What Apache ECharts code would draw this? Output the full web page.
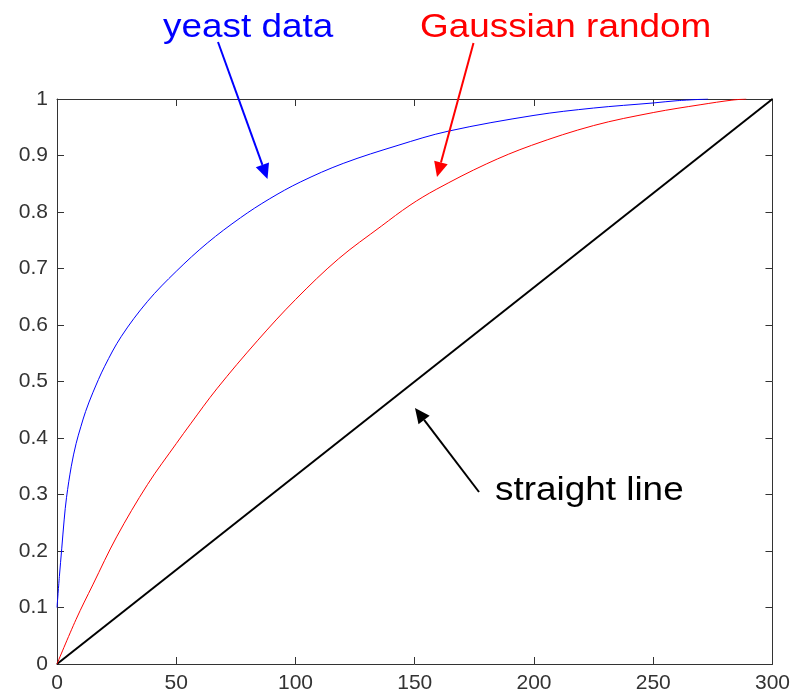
<!DOCTYPE html>
<html>
<head>
<meta charset="utf-8">
<script src="https://cdn.jsdelivr.net/npm/echarts@6/dist/echarts.min.js"></script>
<style>html,body{margin:0;padding:0;background:#fff;}#c{width:793px;height:694px;}</style>
</head>
<body>
<div id="c"></div>
<script>
// ---- data ----
const xTicks = [0, 50, 100, 150, 200, 250, 300];
const yTicks = [0, 0.1, 0.2, 0.3, 0.4, 0.5, 0.6, 0.7, 0.8, 0.9, 1];

const yeastX = [0, 1, 2, 3, 4, 6, 8, 10, 12, 15, 20, 27, 38, 50, 63, 77, 89, 102, 120, 143, 164, 200, 225, 250, 260, 273];
const yeastY = [0.10, 0.155, 0.205, 0.255, 0.295, 0.35, 0.39, 0.42, 0.447, 0.48, 0.527, 0.58, 0.642, 0.695, 0.745, 0.79, 0.823, 0.853, 0.886, 0.918, 0.943, 0.971, 0.984, 0.993, 0.997, 1.0];

const gaussX = [0, 8, 15, 25, 38, 50, 56, 67, 84, 100, 118, 136, 148, 159, 180, 199, 225, 250, 270, 283, 289];
const gaussY = [0, 0.079, 0.14, 0.225, 0.318, 0.39, 0.425, 0.487, 0.572, 0.645, 0.717, 0.775, 0.812, 0.84, 0.885, 0.918, 0.953, 0.976, 0.990, 0.998, 1.0];

const lineX = [0, 300];
const lineY = [0, 1];

const labels = ['yeast data', 'Gaussian random', 'straight line'];

// ---- chart ----
const pairs = (xs, ys) => xs.map((x, i) => [x, ys[i]]);
const FONT = '"Liberation Sans", Arial, sans-serif';
const axisColor = '#333';

function arrow(tail, tip, color, w) {
  const dx = tip[0] - tail[0], dy = tip[1] - tail[1];
  const L = Math.hypot(dx, dy);
  const ux = dx / L, uy = dy / L;
  const hl = 15, hw = 7;
  const bx = tip[0] - ux * hl, by = tip[1] - uy * hl;
  const nx = -uy, ny = ux;
  return [
    { type: 'line', shape: { x1: tail[0], y1: tail[1], x2: bx, y2: by }, style: { stroke: color, lineWidth: w }, z: 100 },
    { type: 'polygon', shape: { points: [[tip[0], tip[1]], [bx + nx * hw, by + ny * hw], [bx - nx * hw, by - ny * hw]] }, style: { fill: color }, z: 100 }
  ];
}
function label(text, x, y, color) {
  return { type: 'text', x: x, y: y, scaleX: 1.085, z: 100,
    style: { x: 0, y: 0, text: text, fill: color, font: '34px ' + FONT, textAlign: 'left', textVerticalAlign: 'middle' } };
}

const chart = echarts.init(document.getElementById('c'), null, { renderer: 'canvas' });
const axisCommon = {
  type: 'value', min: 0,
  axisLine: { show: true, onZero: false, lineStyle: { color: axisColor, width: 1 } },
  axisTick: { show: true, inside: true, length: 7, lineStyle: { color: axisColor, width: 1 } },
  splitLine: { show: false }
};
chart.setOption({
  animation: false,
  backgroundColor: '#fff',
  grid: { left: 57, right: 18, top: 99, bottom: 28, containLabel: false },
  xAxis: [
    Object.assign({}, axisCommon, { position: 'bottom', max: 300, interval: 50,
      axisLabel: { show: true, margin: 9, color: axisColor, fontSize: 21, fontFamily: FONT } }),
    Object.assign({}, axisCommon, { position: 'top', max: 300, interval: 50, axisLabel: { show: false } })
  ],
  yAxis: [
    Object.assign({}, axisCommon, { position: 'left', max: 1, interval: 0.1,
      axisLabel: { show: true, margin: 9, color: axisColor, fontSize: 21, fontFamily: FONT,
        formatter: v => String(Math.round(v * 10) / 10) } }),
    Object.assign({}, axisCommon, { position: 'right', max: 1, interval: 0.1, axisLabel: { show: false } })
  ],
  series: [
    { type: 'line', data: pairs(lineX, lineY), showSymbol: false, symbol: 'none', lineStyle: { color: '#000', width: 2 }, z: 3 },
    { type: 'line', data: pairs(gaussX, gaussY), showSymbol: false, symbol: 'none', smooth: 0.35, lineStyle: { color: '#ff0000', width: 1 }, z: 4 },
    { type: 'line', data: pairs(yeastX, yeastY), showSymbol: false, symbol: 'none', smooth: 0.35, lineStyle: { color: '#0000ff', width: 1 }, z: 5 }
  ],
  graphic: [
    label(labels[0], 163, 27.5, '#0000ff'),
    label(labels[1], 420, 27.5, '#ff0000'),
    label(labels[2], 495, 491, '#000000'),
    ...arrow([218, 42], [267.5, 179], '#0000ff', 2),
    ...arrow([473.5, 43], [437, 177], '#ff0000', 2),
    ...arrow([479, 492], [415, 408], '#000000', 2)
  ]
});
</script>
</body>
</html>
